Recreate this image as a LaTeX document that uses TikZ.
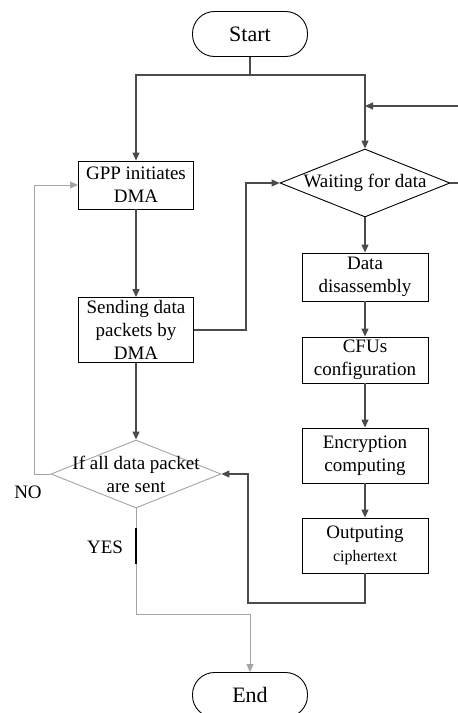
\documentclass[tikz,border=0pt]{standalone}
\usepackage{fontspec}
\setmainfont{Liberation Serif}
\usepackage{tikz}
\usetikzlibrary{shapes.geometric,arrows.meta}
\definecolor{darkline}{RGB}{75,75,75}
\definecolor{lightline}{RGB}{165,165,165}

\begin{document}
\begin{tikzpicture}[x=1pt,y=-1pt,
		font=\fontsize{19}{23}\selectfont,
		term/.style={draw,line width=0.9pt,rounded corners=22pt,minimum width=115pt,minimum height=45pt,font=\fontsize{22}{24}\selectfont},
		box/.style={draw,line width=0.9pt,align=center,inner sep=1pt,minimum width=115pt},
		rbox/.style={box,minimum width=126pt},
		dec/.style={diamond,draw,line width=0.9pt,aspect=2.5,inner sep=0pt,minimum width=170pt,minimum height=68pt},
		line/.style={draw=darkline,line width=1.2pt},
		arrow/.style={line,-{Triangle[length=8pt,width=7pt]}},
		light/.style={draw=lightline,line width=1pt},
		lightarrow/.style={light,-{Triangle[length=8pt,width=7pt]}}]
		\useasboundingbox (0,0) rectangle (458,713);

		\node[term] (start) at (250,34) {Start};
		\node[box,minimum height=48pt] (gpp) at (136,185) {GPP initiates\\ DMA};
		\node[dec] (wait) at (365,183) {Waiting for data};
		\node[box,minimum height=65pt] (send) at (136,330) {Sending data\\ packets by\\ DMA};
		\node[dec,draw=lightline] (sent) at (136,474) {};
		\node[align=center] (senttext) at (136,474) {If all data packet\\ are sent};
		\node (no) at (28,492) {NO};
		\node (yes) at (105,547) {YES};
		\node[term] (end) at (250,695) {End};

		\node[rbox,minimum height=48pt] (disasm) at (365,277) {Data\\ disassembly};
		\node[rbox,minimum height=46pt] (cfg) at (365,360) {CFUs\\ configuration};
		\node[rbox,minimum height=55pt] (enc) at (365,455.5) {Encryption\\ computing};
		\node[rbox,minimum height=55pt] (out) at (365,545.5) {Outputing\\ {\fontsize{16}{20}\selectfont ciphertext}};

		\coordinate (fork) at (250,75);
		\coordinate (loopin) at (458,106);
		\coordinate (loopout) at (458,183);
		\coordinate (back) at (248,603);
		\coordinate (noturn) at (34,474);
		\coordinate (yestop) at (136,528);
		\coordinate (yesbot) at (136,564);
		\coordinate (yesturn) at (136,614);

		\draw[line] (start) -- (fork);
		\draw[arrow] (fork) -| (gpp.north);
		\draw[arrow] (fork) -| (wait.north);
		\draw[arrow] (loopin) -- (loopin -| wait.north);
		\draw[line] (wait.east) -- (loopout);
		\draw[arrow] (gpp) -- (send);
		\draw[arrow] (send.east) -- ++(52,0) |- (wait.west);
		\draw[arrow] (send) -- (sent.north);
		\draw[arrow] (wait) -- (disasm);
		\draw[arrow] (disasm) -- (cfg);
		\draw[arrow] (cfg) -- (enc);
		\draw[arrow] (enc) -- (out);
		\draw[arrow] (out.south) |- (back) |- (sent.east);
		\draw[lightarrow] (sent.west) -- (noturn) |- (gpp.west);
		\draw[light] (sent.south) -- (yestop);
		\draw[black,line width=1.3pt] (yestop) -- (yesbot);
		\draw[lightarrow] (yesbot) -- (yesturn) -| (end.north);
	\end{tikzpicture}
\end{document}
